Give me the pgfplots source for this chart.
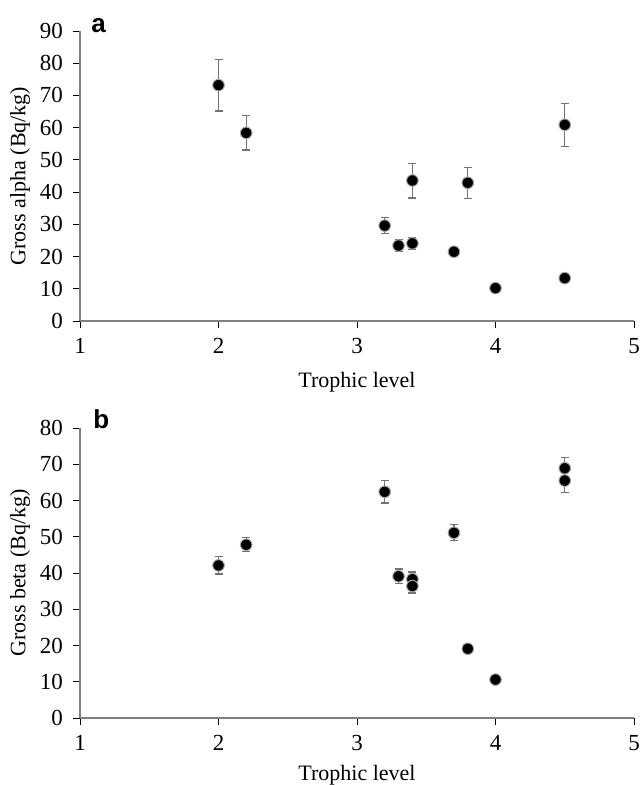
\documentclass[border=0pt]{standalone}
\usepackage{fontspec}
\setmainfont{Liberation Serif}
\newfontfamily\arialfont{Liberation Sans}
\usepackage{pgfplots}
\pgfplotsset{compat=1.18}
\definecolor{axgray}{RGB}{128,128,128}
\definecolor{errgray}{RGB}{115,115,115}
\pgfplotsset{
  panel/.style={
    width=277pt, height=145pt, scale only axis,
    xmin=1, xmax=5, xtick={1,2,3,4,5},
    axis x line*=bottom, axis y line*=left,
    x axis line style={axgray, line width=1pt},
    y axis line style={axgray, line width=0.6pt},
    tick style={black, line width=0.45pt},
    major tick length=3.5pt, tick align=outside,
    /pgf/number format/assume math mode=true,
    tick label style={font=\fontsize{11.5}{13}\selectfont},
    yticklabel style={xshift=-1.5pt},
    xticklabel style={yshift=-1.5pt},
    label style={font=\fontsize{11}{13}\selectfont},
    xlabel style={at={(axis description cs:0.5,0)}, anchor=base, yshift=-33pt},
    ylabel style={at={(axis description cs:-0.108,0.5)}, anchor=center},
    xlabel={Trophic level},
    clip=false,
  },
  pts/.style={
    only marks, mark=*, mark size=2.9pt,
    mark options={fill=black, draw=axgray!70, line width=0.5pt},
    error bars/.cd, y dir=both, y explicit,
    error bar style={errgray, line width=0.6pt},
    error mark options={rotate=90, mark size=2pt, errgray, line width=0.6pt},
  },
}
\begin{document}
\begin{tikzpicture}
\begin{axis}[panel, at={(40pt,-160.5pt)}, anchor=south west,
  ymin=0, ymax=90, ytick={0,10,...,90},
  ylabel={Gross alpha (Bq/kg)}]
\addplot+[pts] coordinates {
  (2,73.2) +- (0,8.0)
  (2.2,58.4) +- (0,5.3)
  (3.2,29.6) +- (0,2.4)
  (3.3,23.4) +- (0,1.8)
  (3.4,24.1) +- (0,1.9)
  (3.4,43.6) +- (0,5.4)
  (3.7,21.5) +- (0,1.4)
  (3.8,42.9) +- (0,4.8)
  (4,10.2) +- (0,1.1)
  (4.5,60.9) +- (0,6.7)
  (4.5,13.3) +- (0,0.8)
};
\end{axis}
\begin{axis}[panel, at={(40pt,-359pt)}, anchor=south west,
  ymin=0, ymax=80, ytick={0,10,...,80},
  xlabel style={yshift=2pt},
  ylabel={Gross beta (Bq/kg)}]
\addplot+[pts] coordinates {
  (2,42.1) +- (0,2.4)
  (2.2,47.8) +- (0,1.9)
  (3.2,62.4) +- (0,3.1)
  (3.3,39.1) +- (0,2.0)
  (3.4,38.3) +- (0,2.0)
  (3.4,36.4) +- (0,1.9)
  (3.7,51.1) +- (0,2.2)
  (3.8,19.1) +- (0,0.6)
  (4,10.6) +- (0,0.5)
  (4.5,68.9) +- (0,2.9)
  (4.5,65.5) +- (0,3.3)
};
\end{axis}
\node[anchor=base west, inner sep=0pt, font=\arialfont\bfseries\fontsize{13}{15}\selectfont] at (45.5pt,-16.5pt) {a};
\node[anchor=base west, inner sep=0pt, font=\arialfont\bfseries\fontsize{13}{15}\selectfont] at (46.5pt,-214pt) {b};
\pgfresetboundingbox
\useasboundingbox (0,0) rectangle (320pt,-392.5pt);
\end{tikzpicture}
\end{document}
